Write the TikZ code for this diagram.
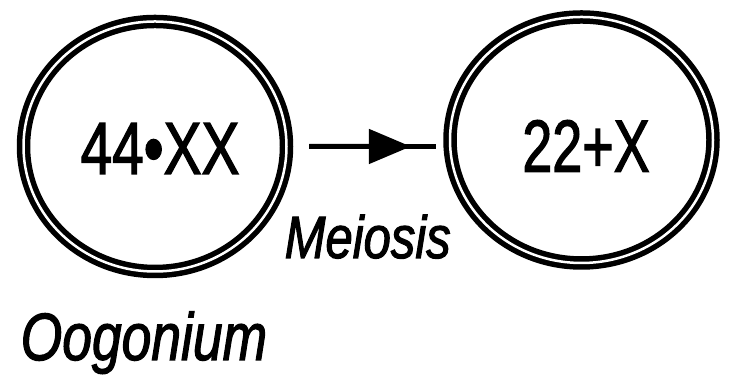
\documentclass[tikz,border=0pt]{standalone}
\usepackage{fontspec}
\setmainfont{Liberation Sans}
\newfontfamily\heavyfont[FakeBold=2]{Liberation Sans}
\usetikzlibrary{arrows.meta,positioning,calc,shapes.geometric}

\tikzset{
  cell/.style={ellipse,draw,double,line width=0.055cm,double distance=0.025cm,inner sep=0pt,minimum width=2.63cm,minimum height=2.50cm},
  count/.style={font=\heavyfont\fontsize{21}{25}\selectfont,inner sep=0pt},
  celltag/.style={inner sep=0pt,anchor=base west},
  link/.style={line width=0.05cm}
}

\begin{document}
\begin{tikzpicture}
  \useasboundingbox (0,0) rectangle (7.3,-3.82);

  % The two cells
  \node[cell] (oog) at (1.55,-1.465) {};
  \node[cell,minimum height=2.46cm] (hap) at (5.815,-1.40) {};

  % Chromosome counts
  \node[count] (oogn) at (1.60,-1.485) {\scalebox{0.77}[1]{44•XX}};
  \node[count] (hapn) at (5.86,-1.46) {\scalebox{0.73}[1]{22+X}};

  % Meiosis arrow, head part way along
  \coordinate (a) at ([xshift=0.2cm]oog.east);
  \coordinate (b) at ([xshift=-0.11cm]hap.west |- a);
  \coordinate (m) at ($(a)!0.8!(b)$);
  \draw[link] (a) -- (b);
  \draw[link,-{Triangle[length=0.42cm,width=0.34cm]}] (a) -- (m);

  % Labels
  \node[celltag,font=\heavyfont\itshape\fontsize{17}{20}\selectfont] (meiosis) at (2.84,-2.58) {\scalebox{0.82}[1]{Meiosis}};
  \node[celltag,font=\heavyfont\itshape\fontsize{19}{23}\selectfont] (oogonium) at (0.20,-3.60) {\scalebox{0.8}[1]{Oogonium}};
\end{tikzpicture}
\end{document}
